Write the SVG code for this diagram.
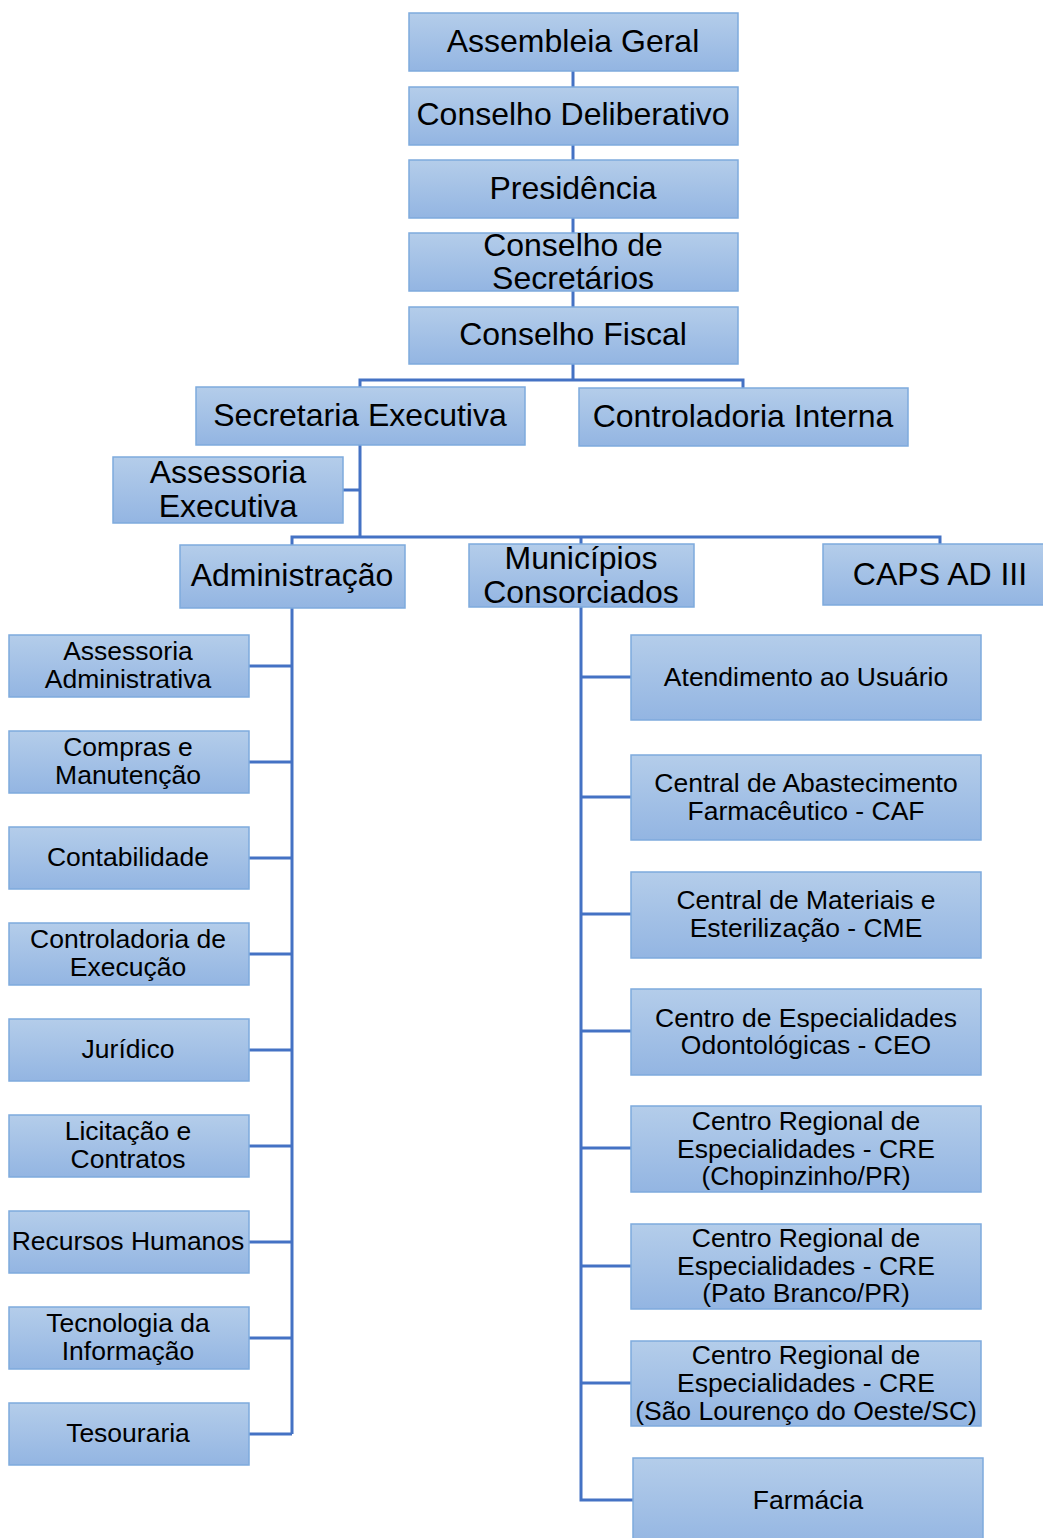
<svg xmlns="http://www.w3.org/2000/svg" width="1043" height="1538" viewBox="0 0 1043 1538">
<defs>
<linearGradient id="g" x1="0" y1="0" x2="0" y2="1">
<stop offset="0" stop-color="#b4cdea"/>
<stop offset="1" stop-color="#93b5e2"/>
</linearGradient>
</defs>
<style>
.b{fill:url(#g);stroke:#7eaadd;stroke-width:1.5}
.c{fill:none;stroke:#4472c4;stroke-width:3}
text{font-family:"Liberation Sans",Arial,sans-serif;fill:#000;text-anchor:middle}
.t{font-size:32px}
.s{font-size:26.5px}
</style>
<rect width="1043" height="1538" fill="#fff"/>
<g id="connectors">
<path class="c" d="M573 71V87M573 145V160M573 218V233M573 291V307M573 364V380M360 387V380H743V388"/>
<path class="c" d="M360 445V537M343 490H360M292 545V537H940V544M581 537V544"/>
<path class="c" d="M292 608V1434M249 666H292M249 762H292M249 858H292M249 954H292M249 1050H292M249 1146H292M249 1242H292M249 1338H292M249 1434H292"/>
<path class="c" d="M581 607V1500H633M581 677H631M581 797H631M581 914H631M581 1031H631M581 1148H631M581 1266H631M581 1383H631"/>
</g>
<g id="assembleia"><rect class="b" x="409" y="13" width="329" height="58"/><text class="t" x="573" y="52">Assembleia Geral</text></g>
<g id="deliberativo"><rect class="b" x="409" y="87" width="329" height="58"/><text class="t" x="573" y="125">Conselho Deliberativo</text></g>
<g id="presidencia"><rect class="b" x="409" y="160" width="329" height="58"/><text class="t" x="573" y="199">Presidência</text></g>
<g id="secretarios"><rect class="b" x="409" y="233" width="329" height="58"/><text class="t" x="573" y="256">Conselho de</text><text class="t" x="573" y="289">Secretários</text></g>
<g id="fiscal"><rect class="b" x="409" y="307" width="329" height="57"/><text class="t" x="573" y="345">Conselho Fiscal</text></g>
<g id="secexec"><rect class="b" x="196" y="387" width="329" height="58"/><text class="t" x="360" y="426">Secretaria Executiva</text></g>
<g id="controladoria"><rect class="b" x="579" y="388" width="329" height="58"/><text class="t" x="743" y="427">Controladoria Interna</text></g>
<g id="assexec"><rect class="b" x="113" y="457" width="230" height="66"/><text class="t" x="228" y="483">Assessoria</text><text class="t" x="228" y="517">Executiva</text></g>
<g id="administracao"><rect class="b" x="180" y="545" width="225" height="63"/><text class="t" x="292" y="586">Administração</text></g>
<g id="municipios"><rect class="b" x="469" y="544" width="225" height="63"/><text class="t" x="581" y="569">Municípios</text><text class="t" x="581" y="603">Consorciados</text></g>
<g id="caps"><rect class="b" x="823" y="544" width="230" height="61"/><text class="t" x="940" y="585">CAPS AD III</text></g>
<g id="assadm"><rect class="b" x="9" y="635" width="240" height="62"/><text class="s" x="128" y="660">Assessoria</text><text class="s" x="128" y="688">Administrativa</text></g>
<g id="compras"><rect class="b" x="9" y="731" width="240" height="62"/><text class="s" x="128" y="756">Compras e</text><text class="s" x="128" y="784">Manutenção</text></g>
<g id="contabilidade"><rect class="b" x="9" y="827" width="240" height="62"/><text class="s" x="128" y="866">Contabilidade</text></g>
<g id="ctrlexec"><rect class="b" x="9" y="923" width="240" height="62"/><text class="s" x="128" y="948">Controladoria de</text><text class="s" x="128" y="976">Execução</text></g>
<g id="juridico"><rect class="b" x="9" y="1019" width="240" height="62"/><text class="s" x="128" y="1058">Jurídico</text></g>
<g id="licitacao"><rect class="b" x="9" y="1115" width="240" height="62"/><text class="s" x="128" y="1140">Licitação e</text><text class="s" x="128" y="1168">Contratos</text></g>
<g id="rh"><rect class="b" x="9" y="1211" width="240" height="62"/><text class="s" x="128" y="1250">Recursos Humanos</text></g>
<g id="ti"><rect class="b" x="9" y="1307" width="240" height="62"/><text class="s" x="128" y="1332">Tecnologia da</text><text class="s" x="128" y="1360">Informação</text></g>
<g id="tesouraria"><rect class="b" x="9" y="1403" width="240" height="62"/><text class="s" x="128" y="1442">Tesouraria</text></g>
<g id="atendimento"><rect class="b" x="631" y="635" width="350" height="85"/><text class="s" x="806" y="686">Atendimento ao Usuário</text></g>
<g id="caf"><rect class="b" x="631" y="755" width="350" height="85"/><text class="s" x="806" y="792">Central de Abastecimento</text><text class="s" x="806" y="820">Farmacêutico - CAF</text></g>
<g id="cme"><rect class="b" x="631" y="872" width="350" height="86"/><text class="s" x="806" y="909">Central de Materiais e</text><text class="s" x="806" y="937">Esterilização - CME</text></g>
<g id="ceo"><rect class="b" x="631" y="989" width="350" height="86"/><text class="s" x="806" y="1027">Centro de Especialidades</text><text class="s" x="806" y="1054">Odontológicas - CEO</text></g>
<g id="cre1"><rect class="b" x="631" y="1106" width="350" height="86"/><text class="s" x="806" y="1130">Centro Regional de</text><text class="s" x="806" y="1158">Especialidades - CRE</text><text class="s" x="806" y="1185">(Chopinzinho/PR)</text></g>
<g id="cre2"><rect class="b" x="631" y="1224" width="350" height="85"/><text class="s" x="806" y="1247">Centro Regional de</text><text class="s" x="806" y="1275">Especialidades - CRE</text><text class="s" x="806" y="1302">(Pato Branco/PR)</text></g>
<g id="cre3"><rect class="b" x="631" y="1341" width="350" height="85"/><text class="s" x="806" y="1364">Centro Regional de</text><text class="s" x="806" y="1392">Especialidades - CRE</text><text class="s" x="806" y="1420">(São Lourenço do Oeste/SC)</text></g>
<g id="farmacia"><rect class="b" x="633" y="1458" width="350" height="90"/><text class="s" x="808" y="1509">Farmácia</text></g>
</svg>
